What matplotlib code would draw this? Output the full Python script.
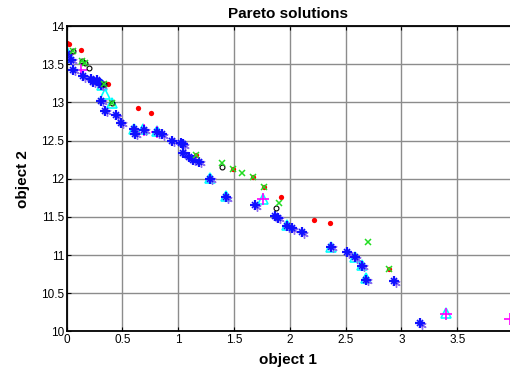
import numpy as np
import matplotlib
matplotlib.use("Agg")
import matplotlib.pyplot as plt
from matplotlib.transforms import offset_copy

plt.rcParams['font.family'] = ['Liberation Sans', 'DejaVu Sans']

# Pareto fronts of the compared algorithms
star_x = [0.00, 0.04, 0.06, 0.15, 0.22, 0.24, 0.27, 0.30, 0.31, 0.31, 0.34, 0.44, 0.49,
          0.60, 0.61, 0.69, 0.81, 0.85, 0.94, 1.02, 1.04, 1.04, 1.10, 1.13, 1.19, 1.28,
          1.43, 1.69, 1.87, 1.89, 1.97, 2.02, 2.11, 2.37, 2.51, 2.58, 2.65, 2.68, 2.93, 3.17]
star_y = [13.63, 13.56, 13.43, 13.34, 13.31, 13.27, 13.29, 13.25, 13.23, 13.02, 12.89, 12.83, 12.73,
          12.65, 12.59, 12.64, 12.61, 12.58, 12.50, 12.47, 12.45, 12.34, 12.29, 12.25, 12.22, 12.00,
          11.76, 11.65, 11.51, 11.49, 11.38, 11.35, 11.30, 11.11, 11.04, 10.97, 10.86, 10.68, 10.66, 10.11]

tri_x = [0.00, 0.01, 0.32, 0.34, 0.41, 0.60, 0.68, 0.81, 1.28, 1.43, 1.76, 1.97, 2.37, 2.58, 2.65, 2.68, 3.40]
tri_y = [13.66, 13.59, 13.23, 13.11, 12.99, 12.65, 12.65, 12.63, 12.01, 11.78, 11.73, 11.39, 11.11, 10.98, 10.87, 10.70, 10.24]

plus_x = [0.13, 0.69, 0.81, 1.76, 3.40, 3.97]
plus_y = [13.43, 12.64, 12.61, 11.73, 10.23, 10.16]

dot_x = [0.00, 0.02, 0.13, 0.37, 0.64, 0.76, 1.16, 1.49, 1.67, 1.77, 1.92, 2.22, 2.36, 2.89]
dot_y = [13.78, 13.76, 13.68, 13.24, 12.92, 12.86, 12.31, 12.13, 12.02, 11.89, 11.76, 11.46, 11.42, 10.82]

cross_x = [0.06, 0.14, 0.16, 0.33, 0.41, 1.16, 1.39, 1.49, 1.57, 1.67, 1.77, 1.90, 2.70, 2.89]
cross_y = [13.67, 13.54, 13.51, 13.24, 12.99, 12.31, 12.21, 12.13, 12.07, 12.02, 11.89, 11.68, 11.17, 10.82]

circ_x = [0.06, 0.14, 0.16, 0.20, 0.33, 0.41, 1.39, 1.88]
circ_y = [13.67, 13.54, 13.51, 13.45, 13.24, 12.99, 12.15, 11.62]

# axes run past the right edge of the picture (x = 4 sits just outside)
left_px, right_px, x4_px = 66.7, 530.0, 513.0
fig = plt.figure(figsize=(5.1001, 3.7401), dpi=100)   # 5.10 alone rounds down to 509 px
ax = fig.add_axes([left_px/510, (374-331.5)/374, (right_px-left_px)/510, (331.5-26)/374])

# purple shadow of the asterisks, shifted a little right/down
shadow = offset_copy(ax.transData, fig=fig, x=2, y=-1.5, units='dots')

ax.plot(dot_x, dot_y, 'o', color='red', markersize=3.8, markeredgewidth=0)
ax.plot(tri_x, tri_y, '^', color='cyan', markersize=7, markerfacecolor='none', markeredgewidth=1.2)
ax.plot(plus_x, plus_y, '+', color='magenta', markersize=8, markeredgewidth=1.2)
ax.plot(star_x, star_y, marker=(6, 2, 0), ls='none', color='#8c6cf0', markersize=6,
        markeredgewidth=1.0, transform=shadow)
ax.plot(star_x, star_y, '+', color='#1010ff', markersize=7, markeredgewidth=1.6)
ax.plot(star_x, star_y, 'x', color='#1010ff', markersize=4, markeredgewidth=1.2)
ax.plot(circ_x, circ_y, 'o', color='black', markersize=3.5, markerfacecolor='none', markeredgewidth=0.8)
ax.plot(cross_x, cross_y, 'x', color='#22dd22', markersize=4.5, markeredgewidth=1.1)

ax.set_xlim(0, 4 * (right_px - left_px) / (x4_px - left_px))
ax.set_ylim(10, 14)
ax.set_xticks(np.arange(0, 4.0, 0.5))
ax.set_xticklabels(['0', '0.5', '1', '1.5', '2', '2.5', '3', '3.5'])
ax.set_yticks(np.arange(10, 14.01, 0.5))
ax.set_yticklabels(['10', '10.5', '11', '11.5', '12', '12.5', '13', '13.5', '14'])
ax.tick_params(direction='in', top=True, right=False, length=3, labelsize=8.5, pad=2)
ax.grid(True, color='0.55', linewidth=1.0)
ax.set_axisbelow(True)
for s in ax.spines.values():
    s.set_linewidth(1.3)
ax.spines['right'].set_visible(False)

mid = ((510 + left_px) / 2 - left_px) / (right_px - left_px)
ax.set_title('Pareto solutions', fontsize=11, fontweight='bold', pad=6, x=mid)
ax.set_xlabel('object 1', fontsize=11, fontweight='bold')
ax.xaxis.set_label_coords(mid, -0.07)
ax.set_ylabel('object 2', fontsize=11, fontweight='bold', labelpad=8)

fig.savefig('out.png', dpi=100)
